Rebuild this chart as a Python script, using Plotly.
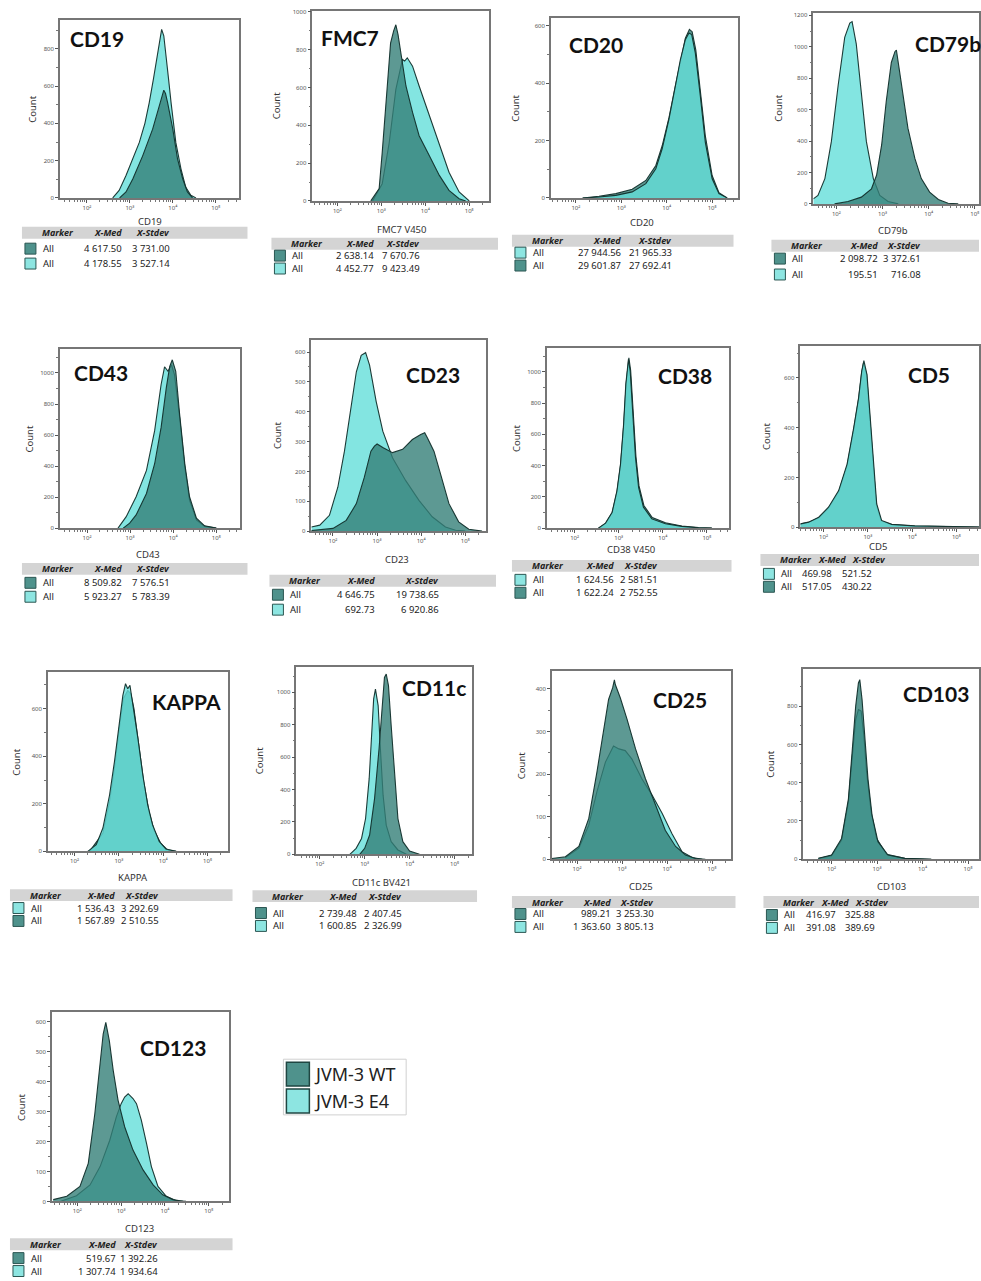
import math
import plotly.graph_objects as go

W, H = 981, 1281

# ------------------------------------------------------------------ data
# x values are in decades (log10 of fluorescence), y values are event counts
CD19_WT_X = [2.76, 2.91, 3.07, 3.30, 3.53, 3.69, 3.76, 3.79, 3.83, 3.88, 4.00, 4.11, 4.23, 4.34, 4.46]
CD19_WT_Y = [0, 32, 103, 227, 369, 493, 560, 578, 560, 510, 369, 209, 103, 32, 0]
CD19_E4_X = [2.60, 2.75, 2.91, 3.07, 3.22, 3.35, 3.45, 3.55, 3.61, 3.68, 3.74, 3.79, 3.84, 3.90, 3.96, 4.07, 4.19, 4.30, 4.42, 4.54]
CD19_E4_Y = [0, 40, 120, 210, 298, 400, 510, 640, 723, 830, 904, 870, 776, 640, 510, 298, 156, 58, 14, 0]

FMC7_WT_X = [2.76, 2.95, 3.02, 3.14, 3.21, 3.28, 3.33, 3.38, 3.44, 3.56, 3.71, 3.86, 4.09, 4.32, 4.54, 4.77, 4.92]
FMC7_WT_Y = [0, 65, 257, 608, 835, 900, 932, 880, 783, 608, 468, 345, 240, 135, 56, 12, 0]
FMC7_E4_X = [2.80, 3.02, 3.18, 3.33, 3.48, 3.53, 3.59, 3.71, 3.86, 4.09, 4.32, 4.54, 4.77, 5.00]
FMC7_E4_Y = [0, 91, 310, 590, 748, 740, 757, 713, 608, 450, 292, 152, 47, 0]

CD20_WT_X = [2.15, 2.51, 2.88, 3.24, 3.54, 3.76, 3.90, 4.05, 4.19, 4.30, 4.41, 4.50, 4.56, 4.64, 4.74, 4.85, 5.00, 5.15, 5.33]
CD20_WT_Y = [0, 6, 15, 30, 61, 113, 182, 280, 390, 476, 557, 588, 580, 517, 378, 217, 78, 18, 0]
CD20_E4_X = [2.15, 2.51, 2.88, 3.24, 3.54, 3.76, 3.90, 4.05, 4.19, 4.30, 4.41, 4.49, 4.55, 4.63, 4.74, 4.85, 5.00, 5.15, 5.33]
CD20_E4_Y = [0, 3, 9, 21, 50, 102, 171, 275, 390, 482, 552, 575, 570, 505, 355, 194, 67, 15, 0]

CD79B_WT_X = [1.96, 2.25, 2.54, 2.76, 2.87, 2.98, 3.08, 3.19, 3.27, 3.30, 3.35, 3.41, 3.55, 3.70, 3.84, 4.02, 4.21, 4.42, 4.64]
CD79B_WT_Y = [0, 15, 43, 96, 182, 375, 653, 900, 970, 979, 880, 760, 482, 289, 161, 75, 28, 4, 0]
CD79B_E4_X = [1.50, 1.60, 1.75, 1.89, 2.04, 2.18, 2.29, 2.34, 2.43, 2.54, 2.65, 2.80, 2.94, 3.12, 3.34]
CD79B_E4_Y = [32, 54, 161, 396, 760, 1060, 1150, 1160, 1018, 696, 396, 161, 54, 15, 0]

CD43_WT_X = [2.84, 2.99, 3.14, 3.38, 3.57, 3.72, 3.84, 3.92, 3.98, 4.06, 4.15, 4.27, 4.38, 4.54, 4.73, 5.00]
CD43_WT_Y = [0, 32, 85, 223, 415, 649, 904, 1043, 1085, 1011, 734, 415, 202, 64, 15, 0]
CD43_E4_X = [2.72, 2.91, 3.14, 3.38, 3.57, 3.72, 3.80, 3.88, 3.96, 4.03, 4.15, 4.27, 4.38, 4.54, 4.73, 5.00]
CD43_E4_Y = [0, 74, 202, 372, 628, 926, 1040, 1011, 1053, 989, 713, 394, 181, 53, 11, 0]

CD23_WT_X = [1.51, 2.00, 2.30, 2.53, 2.71, 2.86, 2.94, 3.00, 3.13, 3.35, 3.58, 3.80, 3.99, 4.08, 4.14, 4.29, 4.44, 4.63, 4.85, 5.08, 5.38]
CD23_WT_Y = [2, 9, 36, 92, 180, 268, 285, 292, 280, 263, 274, 307, 324, 330, 313, 268, 191, 92, 31, 6, 0]
CD23_E4_X = [1.51, 1.70, 1.92, 2.11, 2.26, 2.41, 2.53, 2.64, 2.74, 2.83, 2.98, 3.13, 3.35, 3.65, 3.95, 4.25, 4.55, 4.78, 5.00]
CD23_E4_Y = [14, 20, 53, 147, 268, 423, 534, 589, 598, 556, 434, 335, 246, 169, 103, 48, 14, 3, 0]

CD38_WT_X = [2.54, 2.70, 2.85, 2.96, 3.04, 3.11, 3.17, 3.22, 3.23, 3.27, 3.33, 3.39, 3.46, 3.57, 3.76, 4.06, 4.43, 4.81, 5.11]
CD38_WT_Y = [0, 30, 98, 232, 400, 650, 930, 1085, 1090, 1010, 735, 460, 270, 145, 68, 34, 14, 3, 0]
CD38_E4_X = [2.54, 2.70, 2.85, 2.96, 3.04, 3.11, 3.16, 3.21, 3.22, 3.26, 3.32, 3.38, 3.45, 3.56, 3.75, 4.06, 4.43, 4.81, 5.11]
CD38_E4_Y = [0, 32, 102, 240, 410, 665, 920, 1068, 1080, 1004, 728, 452, 261, 134, 59, 28, 11, 2, 0]

CD5_WT_X = [1.475, 1.66, 1.89, 2.11, 2.34, 2.53, 2.68, 2.79, 2.86, 2.90, 2.97, 3.04, 3.12, 3.19, 3.30, 3.54, 4.06, 4.81, 5.51]
CD5_WT_Y = [12, 19, 38, 76, 142, 246, 392, 515, 622, 660, 615, 460, 255, 90, 25, 10, 4, 2, 0]
CD5_E4_X = [1.475, 1.66, 1.89, 2.11, 2.34, 2.53, 2.68, 2.79, 2.86, 2.91, 2.98, 3.05, 3.13, 3.20, 3.31, 3.54, 4.06, 4.81, 5.51]
CD5_E4_Y = [13, 20, 40, 80, 147, 253, 400, 520, 627, 670, 613, 453, 253, 93, 27, 11, 5, 3, 0]

KAPPA_WT_X = [2.34, 2.64, 2.79, 2.90, 3.01, 3.10, 3.20, 3.27, 3.34, 3.45, 3.56, 3.68, 3.79, 3.94, 4.09, 4.29]
KAPPA_WT_Y = [0, 77, 209, 349, 516, 642, 677, 663, 600, 446, 293, 167, 91, 35, 7, 0]
KAPPA_E4_X = [2.30, 2.49, 2.64, 2.79, 2.90, 3.01, 3.09, 3.15, 3.20, 3.25, 3.31, 3.43, 3.54, 3.65, 3.76, 3.91, 4.06, 4.29]
KAPPA_E4_Y = [0, 28, 98, 237, 377, 544, 656, 705, 684, 698, 628, 474, 321, 195, 112, 42, 10, 0]

CD11C_WT_X = [2.89, 3.00, 3.11, 3.22, 3.32, 3.39, 3.44, 3.48, 3.53, 3.59, 3.67, 3.74, 3.85, 4.00, 4.22]
CD11C_WT_Y = [0, 37, 119, 344, 652, 939, 1092, 1113, 1041, 795, 467, 221, 78, 20, 0]
CD11C_E4_X = [2.67, 2.81, 2.93, 3.02, 3.10, 3.16, 3.20, 3.24, 3.30, 3.35, 3.41, 3.48, 3.59, 3.74, 3.93]
CD11C_E4_Y = [0, 37, 98, 221, 467, 754, 959, 1020, 918, 652, 365, 180, 78, 27, 0]

CD25_WT_X = [1.44, 1.74, 2.04, 2.26, 2.44, 2.59, 2.70, 2.79, 2.83, 2.85, 2.96, 3.11, 3.30, 3.52, 3.74, 3.96, 4.19, 4.41, 4.63, 4.85]
CD25_WT_Y = [2, 6, 30, 96, 204, 305, 375, 402, 421, 410, 379, 329, 259, 189, 127, 68, 30, 10, 2, 0]
CD25_E4_X = [1.74, 2.04, 2.26, 2.44, 2.63, 2.81, 2.93, 3.07, 3.22, 3.44, 3.67, 3.89, 4.11, 4.33, 4.56, 4.78]
CD25_E4_Y = [4, 26, 80, 158, 228, 266, 259, 255, 235, 189, 150, 108, 60, 18, 4, 0]

CD103_WT_X = [1.71, 2.00, 2.22, 2.37, 2.45, 2.53, 2.59, 2.62, 2.67, 2.73, 2.80, 2.89, 3.02, 3.24, 3.61, 4.19]
CD103_WT_Y = [5, 22, 109, 316, 558, 800, 921, 938, 834, 644, 420, 230, 92, 22, 5, 0]
CD103_E4_X = [1.71, 2.00, 2.22, 2.37, 2.45, 2.53, 2.59, 2.65, 2.71, 2.77, 2.87, 2.99, 3.21, 3.61, 4.19]
CD103_E4_Y = [4, 19, 100, 299, 523, 730, 782, 774, 644, 454, 247, 109, 26, 5, 0]

CD123_WT_X = [1.45, 1.76, 2.06, 2.25, 2.40, 2.52, 2.59, 2.65, 2.73, 2.82, 2.93, 3.08, 3.27, 3.50, 3.73, 3.95, 4.18, 4.41]
CD123_WT_Y = [6, 17, 50, 127, 293, 459, 558, 597, 536, 436, 337, 249, 171, 105, 55, 22, 6, 0]
CD123_E4_X = [1.61, 1.98, 2.29, 2.52, 2.74, 2.89, 3.00, 3.08, 3.16, 3.27, 3.35, 3.46, 3.58, 3.69, 3.84, 4.03, 4.26, 4.48]
CD123_E4_Y = [0, 19, 55, 116, 204, 282, 326, 348, 359, 343, 326, 271, 193, 116, 50, 17, 2, 0]

# table statistics: (series, X-Med, X-Stdev) in the order listed under each plot
CD19_STATS = [("WT", "4 617.50", "3 731.00"), ("E4", "4 178.55", "3 527.14")]
FMC7_STATS = [("WT", "2 638.14", "7 670.76"), ("E4", "4 452.77", "9 423.49")]
CD20_STATS = [("E4", "27 944.56", "21 965.33"), ("WT", "29 601.87", "27 692.41")]
CD79B_STATS = [("WT", "2 098.72", "3 372.61"), ("E4", "195.51", "716.08")]
CD43_STATS = [("WT", "8 509.82", "7 576.51"), ("E4", "5 923.27", "5 783.39")]
CD23_STATS = [("WT", "4 646.75", "19 738.65"), ("E4", "692.73", "6 920.86")]
CD38_STATS = [("E4", "1 624.56", "2 581.51"), ("WT", "1 622.24", "2 752.55")]
CD5_STATS = [("E4", "469.98", "521.52"), ("WT", "517.05", "430.22")]
KAPPA_STATS = [("E4", "1 536.43", "3 292.69"), ("WT", "1 567.89", "2 510.55")]
CD11C_STATS = [("WT", "2 739.48", "2 407.45"), ("E4", "1 600.85", "2 326.99")]
CD25_STATS = [("WT", "989.21", "3 253.30"), ("E4", "1 363.60", "3 805.13")]
CD103_STATS = [("WT", "416.97", "325.88"), ("E4", "391.08", "389.69")]
CD123_STATS = [("WT", "519.67", "1 392.26"), ("E4", "1 307.74", "1 934.64")]

SERIES_NAMES = {"WT": "JVM-3 WT", "E4": "JVM-3 E4"}
TICK_DECADES = [2, 3, 4, 5]
TICK_TEXT = ["10²", "10³", "10⁴", "10⁵"]

# ------------------------------------------------------------------ styles
FILL = {"WT": "rgba(52,128,120,0.80)", "E4": "rgba(100,222,218,0.80)"}
SWATCH = {"WT": "#4f928c", "E4": "#8de5e1"}
OUTLINE = "rgba(18,48,44,0.95)"
FRAME = "#767676"
TXT = "#333333"
FONT = "Noto Sans"

# panel layout: box (left, right, top, bottom) in px, x range, y max, y dtick,
# title pos, x-label, x-label pos, count offset, table spec
PANELS = [
    dict(name="CD19", wt=(CD19_WT_X, CD19_WT_Y), e4=(CD19_E4_X, CD19_E4_Y), stats=CD19_STATS,
         box=(60, 239, 17, 196), xr=(1.37, 5.53), ymax=955, dt=200,
         tpos=(68, 36), xl="CD19", xlpos=(150, 220), cnt=33,
         tab=dict(x0=22, x1=248, yh=231, y1=247, y2=262, mh=124, sh=172, med=124, sd=172)),
    dict(name="FMC7", wt=(FMC7_WT_X, FMC7_WT_Y), e4=(FMC7_E4_X, FMC7_E4_Y), stats=FMC7_STATS,
         box=(313, 490, 8, 199), xr=(1.43, 5.45), ymax=1005, dt=200,
         tpos=(320, 35), xl="FMC7 V450", xlpos=(402, 228), cnt=278,
         tab=dict(x0=272, x1=499, yh=242, y1=254, y2=267, mh=377, sh=423, med=377, sd=423)),
    dict(name="CD20", wt=(CD20_WT_X, CD20_WT_Y), e4=(CD20_E4_X, CD20_E4_Y), stats=CD20_STATS,
         box=(552, 740, 15, 196), xr=(1.45, 5.58), ymax=628, dt=200,
         tpos=(568, 42), xl="CD20", xlpos=(643, 221), cnt=517,
         tab=dict(x0=513, x1=735, yh=239, y1=251, y2=264, mh=624, sh=675, med=624, sd=675)),
    dict(name="CD79b", wt=(CD79B_WT_X, CD79B_WT_Y), e4=(CD79B_E4_X, CD79B_E4_Y), stats=CD79B_STATS,
         box=(815, 981, 10, 202), xr=(1.50, 5.09), ymax=1215, dt=200,
         tpos=(915, 41), xl="CD79b", xlpos=(895, 229), cnt=780,
         tab=dict(x0=773, x1=981, yh=244, y1=257, y2=273, mh=882, sh=925, med=882, sd=925)),
    dict(name="CD43", wt=(CD43_WT_X, CD43_WT_Y), e4=(CD43_E4_X, CD43_E4_Y), stats=CD43_STATS,
         box=(60, 240, 348, 528), xr=(1.37, 5.54), ymax=1154, dt=200,
         tpos=(72, 372), xl="CD43", xlpos=(148, 555), cnt=30,
         tab=dict(x0=22, x1=248, yh=569, y1=583, y2=597, mh=124, sh=172, med=124, sd=172)),
    dict(name="CD23", wt=(CD23_WT_X, CD23_WT_Y), e4=(CD23_E4_X, CD23_E4_Y), stats=CD23_STATS,
         box=(312, 487, 339, 531), xr=(1.51, 5.47), ymax=640, dt=100,
         tpos=(405, 374), xl="CD23", xlpos=(398, 560), cnt=278,
         tab=dict(x0=270, x1=497, yh=581, y1=595, y2=610, mh=378, sh=442, med=378, sd=442)),
    dict(name="CD38", wt=(CD38_WT_X, CD38_WT_Y), e4=(CD38_E4_X, CD38_E4_Y), stats=CD38_STATS,
         box=(548, 730, 347, 528), xr=(1.37, 5.49), ymax=1152, dt=200,
         tpos=(657, 375), xl="CD38 V450", xlpos=(632, 550), cnt=517,
         tab=dict(x0=513, x1=733, yh=566, y1=580, y2=593, mh=617, sh=661, med=617, sd=661)),
    dict(name="CD5", wt=(CD5_WT_X, CD5_WT_Y), e4=(CD5_E4_X, CD5_E4_Y), stats=CD5_STATS,
         box=(802, 981, 345, 527), xr=(1.475, 5.51), ymax=728, dt=200,
         tpos=(908, 374), xl="CD5", xlpos=(880, 546), cnt=768,
         tab=dict(x0=762, x1=981, yh=560, y1=574, y2=587, mh=850, sh=890, med=836, sd=876)),
    dict(name="KAPPA", wt=(KAPPA_WT_X, KAPPA_WT_Y), e4=(KAPPA_E4_X, KAPPA_E4_Y), stats=KAPPA_STATS,
         box=(48, 228, 673, 853), xr=(1.40, 5.45), ymax=753, dt=200,
         tpos=(150, 702), xl="KAPPA", xlpos=(133, 879), cnt=17,
         tab=dict(x0=10, x1=233, yh=897, y1=910, y2=923, mh=117, sh=161, med=117, sd=161)),
    dict(name="CD11c", wt=(CD11C_WT_X, CD11C_WT_Y), e4=(CD11C_E4_X, CD11C_E4_Y), stats=CD11C_STATS,
         box=(297, 473, 668, 856), xr=(1.48, 5.39), ymax=1154, dt=200,
         tpos=(401, 688), xl="CD11c BV421", xlpos=(382, 884), cnt=260,
         tab=dict(x0=253, x1=478, yh=898, y1=915, y2=928, mh=360, sh=405, med=360, sd=405)),
    dict(name="CD25", wt=(CD25_WT_X, CD25_WT_Y), e4=(CD25_E4_X, CD25_E4_Y), stats=CD25_STATS,
         box=(553, 732, 672, 861), xr=(1.44, 5.41), ymax=441, dt=100,
         tpos=(652, 700), xl="CD25", xlpos=(642, 888), cnt=522,
         tab=dict(x0=513, x1=737, yh=904, y1=916, y2=929, mh=614, sh=657, med=614, sd=657)),
    dict(name="CD103", wt=(CD103_WT_X, CD103_WT_Y), e4=(CD103_E4_X, CD103_E4_Y), stats=CD103_STATS,
         box=(805, 981, 670, 861), xr=(1.38, 5.24), ymax=992, dt=200,
         tpos=(903, 694), xl="CD103", xlpos=(893, 888), cnt=772,
         tab=dict(x0=765, x1=981, yh=904, y1=917, y2=930, mh=853, sh=893, med=840, sd=879)),
    dict(name="CD123", wt=(CD123_WT_X, CD123_WT_Y), e4=(CD123_E4_X, CD123_E4_Y), stats=CD123_STATS,
         box=(52, 229, 1015, 1205), xr=(1.42, 5.45), ymax=630, dt=100,
         tpos=(138, 1050), xl="CD123", xlpos=(140, 1232), cnt=22,
         tab=dict(x0=10, x1=233, yh=1248, y1=1262, y2=1275, mh=118, sh=160, med=118, sd=160)),
]


def fx(p):
    return min(max(p / W, 0.0), 1.0)


def fy(p):
    return min(max(1 - p / H, 0.0), 1.0)


fig = go.Figure()
layout = dict(width=W, height=H, margin=dict(l=0, r=0, t=0, b=0),
              paper_bgcolor="white", plot_bgcolor="white", showlegend=False)
annotations = []
shapes = []

for i, p in enumerate(PANELS, start=1):
    xa = "x" if i == 1 else f"x{i}"
    ya = "y" if i == 1 else f"y{i}"
    l, r, t, b = p["box"]
    order = [p["stats"][1][0], p["stats"][0][0]]  # second-listed drawn first
    for s in order:
        xs, ys = p["wt"] if s == "WT" else p["e4"]
        fig.add_trace(go.Scatter(x=xs, y=ys, mode="lines", fill="tozeroy",
                                 fillcolor=FILL[s], line=dict(color=OUTLINE, width=1.1),
                                 xaxis=xa, yaxis=ya, hoverinfo="skip", name=SERIES_NAMES[s]))
    x0r, x1r = p["xr"]
    minor_x = [d + math.log10(k) for d in range(1, 6) for k in range(2, 10)
               if x0r < d + math.log10(k) < x1r]
    layout["xaxis" if i == 1 else f"xaxis{i}"] = dict(
        domain=[fx(l), fx(r)], range=list(p["xr"]), anchor=ya,
        showline=True, mirror=True, linecolor=FRAME, linewidth=1.5,
        ticks="outside", ticklen=3, tickwidth=1, tickcolor="#555",
        tickmode="array", tickvals=TICK_DECADES, ticktext=TICK_TEXT,
        tickfont=dict(size=6, color="#555", family=FONT),
        minor=dict(tickmode="array", tickvals=minor_x, ticks="outside", ticklen=2, tickcolor="#777"),
        showgrid=False, zeroline=False, fixedrange=True)
    layout["yaxis" if i == 1 else f"yaxis{i}"] = dict(
        domain=[fy(b), fy(t)], range=[0, p["ymax"]], anchor=xa,
        showline=True, mirror=True, linecolor=FRAME, linewidth=1.5,
        ticks="outside", ticklen=3, tickwidth=1, tickcolor="#555",
        tick0=0, dtick=p["dt"],
        tickfont=dict(size=6, color="#555", family=FONT),
        minor=dict(dtick=p["dt"] / 2, ticks="outside", ticklen=2, tickcolor="#777"),
        showgrid=False, zeroline=False, fixedrange=True)

    # panel title
    annotations.append(dict(xref="paper", yref="paper", x=p["tpos"][0] / W, y=1 - p["tpos"][1] / H,
                            xanchor="left", yanchor="middle", showarrow=False, text=f"<b>{p['name']}</b>",
                            font=dict(family="Lato", size=21, color="#111")))
    # axis titles
    annotations.append(dict(xref="paper", yref="paper", x=p["xlpos"][0] / W, y=1 - p["xlpos"][1] / H,
                            xanchor="center", yanchor="middle", showarrow=False, text=p["xl"],
                            font=dict(family=FONT, size=9.5, color=TXT)))
    annotations.append(dict(xref="paper", yref="paper", x=p["cnt"] / W, y=1 - (t + b) / 2 / H,
                            xanchor="center", yanchor="middle", showarrow=False, text="Count",
                            textangle=-90, font=dict(family=FONT, size=9.5, color=TXT)))

    # statistics table
    tb = p["tab"]
    shapes.append(dict(type="rect", xref="paper", yref="paper", layer="below",
                       x0=tb["x0"] / W, x1=min(tb["x1"], W) / W,
                       y0=1 - (tb["yh"] + 6) / H, y1=1 - (tb["yh"] - 6) / H,
                       fillcolor="#d4d4d4", line=dict(width=0)))
    hdr_font = dict(family=FONT, size=9, color="#222")
    annotations.append(dict(xref="paper", yref="paper", x=(tb["x0"] + 18) / W, y=1 - tb["yh"] / H,
                            xanchor="left", yanchor="middle", showarrow=False,
                            text="<b><i>Marker</i></b>", font=hdr_font))
    annotations.append(dict(xref="paper", yref="paper", x=tb["mh"] / W, y=1 - tb["yh"] / H,
                            xanchor="right", yanchor="middle", showarrow=False,
                            text="<b><i>X-Med</i></b>", font=hdr_font))
    annotations.append(dict(xref="paper", yref="paper", x=tb["sh"] / W, y=1 - tb["yh"] / H,
                            xanchor="right", yanchor="middle", showarrow=False,
                            text="<b><i>X-Stdev</i></b>", font=hdr_font))
    row_font = dict(family=FONT, size=9.5, color="#222")
    for (s, med, sd), ry in zip(p["stats"], (tb["y1"], tb["y2"])):
        shapes.append(dict(type="rect", xref="paper", yref="paper",
                           x0=(tb["x0"] + 3) / W, x1=(tb["x0"] + 14) / W,
                           y0=1 - (ry + 5.5) / H, y1=1 - (ry - 5.5) / H,
                           fillcolor=SWATCH[s], line=dict(color="#2b5652", width=1)))
        annotations.append(dict(xref="paper", yref="paper", x=(tb["x0"] + 19) / W, y=1 - ry / H,
                                xanchor="left", yanchor="middle", showarrow=False, text="All",
                                font=row_font))
        annotations.append(dict(xref="paper", yref="paper", x=tb["med"] / W, y=1 - ry / H,
                                xanchor="right", yanchor="middle", showarrow=False, text=med,
                                font=row_font))
        annotations.append(dict(xref="paper", yref="paper", x=tb["sd"] / W, y=1 - ry / H,
                                xanchor="right", yanchor="middle", showarrow=False, text=sd,
                                font=row_font))

# legend box
shapes.append(dict(type="rect", xref="paper", yref="paper", x0=284 / W, x1=407 / W,
                   y0=1 - 1118 / H, y1=1 - 1062 / H, fillcolor="white",
                   line=dict(color="#d0d0d0", width=1), layer="below"))
for s, (yt, yb) in (("WT", (1065, 1089)), ("E4", (1092, 1116))):
    shapes.append(dict(type="rect", xref="paper", yref="paper", x0=287 / W, x1=310 / W,
                       y0=1 - yb / H, y1=1 - yt / H, fillcolor=SWATCH[s],
                       line=dict(color="#1f4642", width=1.5)))
    annotations.append(dict(xref="paper", yref="paper", x=313 / W, y=1 - (yt + yb) / 2 / H,
                            xanchor="left", yanchor="middle", showarrow=False, text=SERIES_NAMES[s],
                            font=dict(family=FONT, size=18, color="#222")))

layout["annotations"] = annotations
layout["shapes"] = shapes
fig.update_layout(**layout)
fig.write_html("out.html", config={"displayModeBar": False},
               post_script="document.body.style.margin='0';document.body.style.overflow='hidden';")
